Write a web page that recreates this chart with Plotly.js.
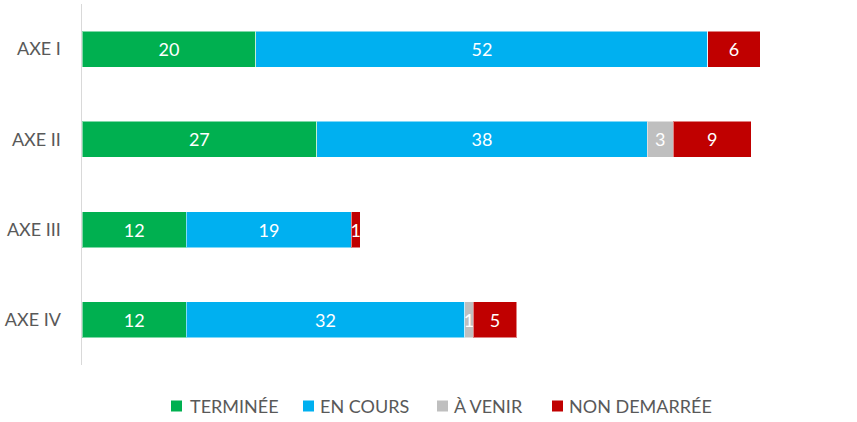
<!DOCTYPE html>
<html>
<head>
<meta charset="utf-8">
<script src="https://cdn.plot.ly/plotly-3.0.1.min.js"></script>
<style>html,body{margin:0;padding:0;background:#fff;}#chart{width:857px;height:422px;}</style>
</head>
<body>
<div id="chart"></div>
<script>
const categories = ["AXE I", "AXE II", "AXE III", "AXE IV"];
const seriesNames = ["TERMINÉE", "EN COURS", "À VENIR", "NON DEMARRÉE"];
const terminee = [20, 27, 12, 12];
const enCours = [52, 38, 19, 32];
const aVenir = [0, 3, 0, 1];
const nonDemarree = [6, 9, 1, 5];
const colors = ["#00B050", "#00B0F0", "#BFBFBF", "#C00000"];

const allSeries = [terminee, enCours, aVenir, nonDemarree];
const traces = allSeries.map((vals, i) => ({
  type: "bar",
  orientation: "h",
  name: seriesNames[i],
  y: categories,
  x: vals,
  text: vals.map(v => v ? String(v) : ""),
  textposition: "inside",
  insidetextanchor: "middle",
  textangle: 0,
  textfont: {color: "#ffffff", size: 18, family: "Lato, sans-serif"},
  marker: {color: colors[i], line: {color: "rgba(255,255,255,0.5)", width: 1}},
  hoverinfo: "x+name",
  showlegend: false
}));

// Custom legend (layout positions in pixels, converted to paper coords)
const W = 857, H = 422, M = {l: 82, r: 10, t: 4, b: 57};
const pw = W - M.l - M.r, ph = H - M.t - M.b;
const px = x => (x - M.l) / pw;
const py = y => (H - M.b - y) / ph;
const legendSquareX = [171, 303, 437, 552];
const legendTextX = [188, 318, 452, 567];
const legendY = 406, sq = 11;

const shapes = seriesNames.map((n, i) => ({
  type: "rect", xref: "paper", yref: "paper",
  x0: px(legendSquareX[i]), x1: px(legendSquareX[i] + sq),
  y0: py(legendY + sq / 2), y1: py(legendY - sq / 2),
  fillcolor: colors[i], line: {width: 0}
}));
const annotations = seriesNames.map((n, i) => ({
  xref: "paper", yref: "paper",
  x: px(legendTextX[i]), y: py(legendY),
  xanchor: "left", yanchor: "middle",
  text: n, showarrow: false,
  font: {size: 18, color: "#595959", family: "Lato, sans-serif"}
}));

const layout = {
  width: W,
  height: H,
  margin: M,
  barmode: "stack",
  bargap: 0.6,
  paper_bgcolor: "#ffffff",
  plot_bgcolor: "#ffffff",
  font: {family: "Lato, sans-serif", color: "#595959", size: 18},
  uniformtext: {mode: "show", minsize: 18},
  xaxis: {range: [0, 88], showgrid: false, zeroline: false, showticklabels: false, showline: false, ticks: ""},
  yaxis: {autorange: "reversed", showgrid: false, zeroline: false, showline: true, linecolor: "#D9D9D9", linewidth: 1.5, ticks: "", ticklabelstandoff: 16, tickfont: {size: 18, color: "#595959"}},
  showlegend: false,
  shapes: shapes,
  annotations: annotations
};

Plotly.newPlot("chart", traces, layout, {displayModeBar: false, staticPlot: true});
</script>
</body>
</html>
